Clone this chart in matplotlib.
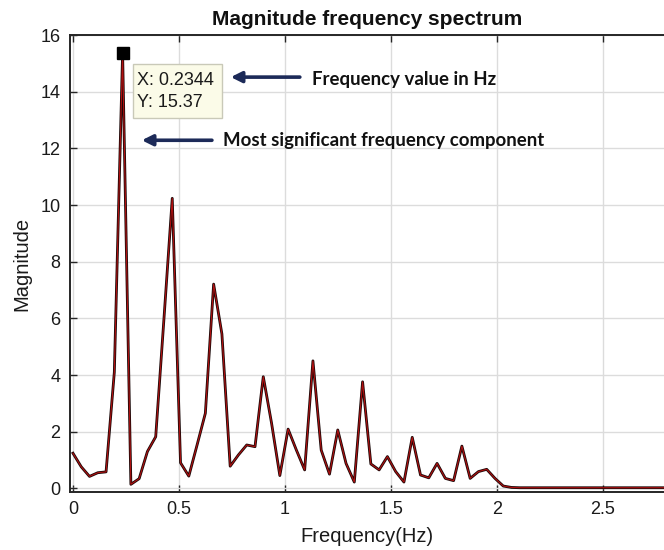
import numpy as np
import matplotlib
matplotlib.use("Agg")
import matplotlib.pyplot as plt
from matplotlib.patches import Rectangle

# ---- data ----
freq_step = 0.0390625  # Hz between FFT bins
magnitude = [
    1.24, 0.76, 0.42, 0.55, 0.58, 4.10, 15.37, 0.14, 0.34, 1.30,
    1.82, 6.00, 10.24, 0.90, 0.43, 1.53, 2.65, 7.21, 5.45, 0.78,
    1.18, 1.53, 1.47, 3.94, 2.30, 0.45, 2.09, 1.35, 0.65, 4.50,
    1.35, 0.50, 2.06, 0.88, 0.22, 3.76, 0.86, 0.65, 1.12, 0.59,
    0.22, 1.80, 0.47, 0.37, 0.88, 0.35, 0.27, 1.49, 0.35, 0.59,
    0.67, 0.35, 0.08, 0.03, 0.02, 0.02, 0.02, 0.02, 0.02, 0.02,
    0.02, 0.02, 0.02, 0.02, 0.02, 0.02, 0.02, 0.02, 0.02, 0.02,
    0.02, 0.02, 0.02,
]
xticks = [0, 0.5, 1, 1.5, 2, 2.5]
xtick_labels = ["0", "0.5", "1", "1.5", "2", "2.5"]
yticks = [0, 2, 4, 6, 8, 10, 12, 14, 16]
peak_x = 0.2344
peak_y = 15.37
tip_lines = ["X: 0.2344", "Y: 15.37"]
note_freq = "Frequency value in Hz"
note_peak = "Most significant frequency component"

freqs = np.arange(len(magnitude)) * freq_step

plt.rcParams['font.family'] = ['Liberation Sans', 'DejaVu Sans']

fig = plt.figure(figsize=(6.64, 5.5), dpi=100)
ax = fig.add_axes([0.1054, 0.106, 0.8946, 0.830])

ax.plot(freqs, magnitude, color='#1a0808', lw=2.0, zorder=3)
ax.plot(freqs, magnitude, color='#b01010', lw=0.8, zorder=4)

ax.set_xlim(-0.014, 2.79)
ax.set_ylim(-0.12, 16)
ax.set_xticks(xticks)
ax.set_xticklabels(xtick_labels)
ax.set_yticks(yticks)
ax.grid(True, color='#dcdcdc', lw=1.0)
ax.set_axisbelow(True)

for s in ['left', 'bottom', 'top']:
    ax.spines[s].set_color('#262626')
    ax.spines[s].set_linewidth(1.4)
ax.spines['right'].set_visible(False)
ax.tick_params(direction='in', length=5, width=1.0, colors='#262626',
               labelsize=13, top=True, right=False, pad=7)
for lab in ax.get_xticklabels() + ax.get_yticklabels():
    lab.set_color('#1a1a1a')

ax.set_title("Magnitude frequency spectrum", fontsize=15, fontweight='bold',
             color='#111111', pad=7)
ax.set_xlabel("Frequency(Hz)", fontsize=14.5, color='#1a1a1a', labelpad=6)
ax.set_ylabel("Magnitude", fontsize=14.5, color='#1a1a1a', labelpad=6)

# peak marker
ax.plot([peak_x], [peak_y], marker='s', ms=8, color='black', zorder=6, clip_on=False)

# datatip box
ax.add_patch(Rectangle((0.283, 13.07), 0.42, 1.90, facecolor='#fbfbe8',
                       edgecolor='#c9c9b8', lw=1.0, zorder=5))
ax.text(0.300, 14.40, tip_lines[0], fontsize=13, color='#1a1a1a',
        va='center', ha='left', zorder=6)
ax.text(0.300, 13.62, tip_lines[1], fontsize=13, color='#1a1a1a',
        va='center', ha='left', zorder=6)

navy = '#1c2a58'
ax.annotate("", xy=(0.745, 14.52), xytext=(1.071, 14.52),
            arrowprops=dict(arrowstyle='-|>', color=navy, lw=2.6,
                            mutation_scale=16, shrinkA=0, shrinkB=0), zorder=6)
ax.text(1.127, 14.45, note_freq, fontsize=13.4, fontweight='bold',
        family=['Lato', 'DejaVu Sans'], color='#111111', va='center', ha='left', zorder=6)

ax.annotate("", xy=(0.325, 12.29), xytext=(0.656, 12.29),
            arrowprops=dict(arrowstyle='-|>', color=navy, lw=2.6,
                            mutation_scale=16, shrinkA=0, shrinkB=0), zorder=6)
ax.text(0.708, 12.29, note_peak, fontsize=13.4, fontweight='bold',
        family=['Lato', 'DejaVu Sans'], color='#111111', va='center', ha='left', zorder=6)

fig.savefig("out.png", dpi=100)
